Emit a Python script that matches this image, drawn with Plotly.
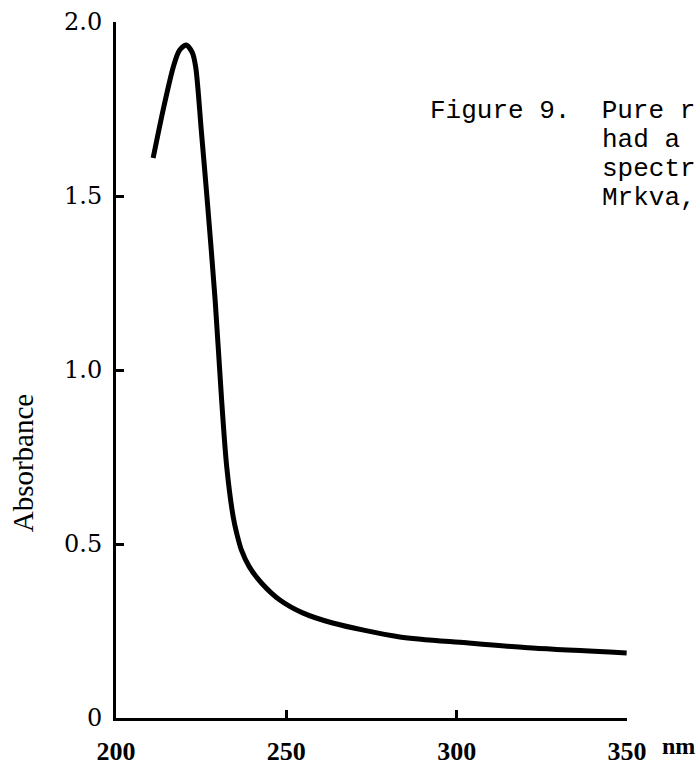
import plotly.graph_objects as go

# Absorption spectrum, wavelength (nm) vs absorbance
wavelength = [210.9, 213.9, 216.8, 218.6, 220.6, 222.4, 223.4, 225.1, 226.7,
              229.1, 231.0, 232.5, 234.4, 235.4, 236.8, 239.1, 242.7, 248.1,
              254.8, 263.6, 283.3, 302.9, 322.3, 349.9]
absorbance = [1.609, 1.750, 1.870, 1.918, 1.934, 1.912, 1.870, 1.681, 1.497,
              1.201, 0.914, 0.722, 0.578, 0.532, 0.483, 0.435, 0.388, 0.339,
              0.302, 0.273, 0.233, 0.216, 0.201, 0.187]

x_ticks = [200, 250, 300, 350]
x_ticklabels = ["200", "250", "300", "350"]
y_ticks = [0, 0.5, 1.0, 1.5, 2.0]
y_ticklabels = ["0", "0.5", "1.0", "1.5", "2.0"]

caption_lines = ["Figure 9.\u00a0\u00a0Pure r", "had a", "spectr", "Mrkva,"]

fig = go.Figure()
fig.add_trace(go.Scatter(
    x=wavelength, y=absorbance, mode="lines",
    line=dict(color="black", width=5, shape="spline", smoothing=0.8),
    hoverinfo="skip", showlegend=False,
))

axis_common = dict(
    showline=True, linecolor="black", linewidth=3,
    ticks="inside", ticklen=8, tickwidth=2.5, tickcolor="black",
    showgrid=False, zeroline=False, mirror=False, automargin=False,
)

fig.update_xaxes(
    range=[200, 350], tickvals=x_ticks, ticktext=x_ticklabels,
    tickfont=dict(family="Liberation Serif", size=26, color="black", weight="bold"),
    ticklabelstandoff=8,
    **axis_common,
)
fig.update_yaxes(
    range=[0, 2.0], tickvals=y_ticks, ticktext=y_ticklabels,
    tickfont=dict(family="DejaVu Serif", size=24, color="black"),
    ticklabelstandoff=6,
    **axis_common,
)

annotations = [
    dict(text="Absorbance", xref="paper", yref="paper", x=0, y=0.366,
         xshift=-93, xanchor="center", yanchor="middle", textangle=-90,
         showarrow=False,
         font=dict(family="Liberation Serif", size=29, color="black")),
    dict(text="nm", xref="x", yref="paper", x=350, y=0, xanchor="left",
         yanchor="middle", xshift=33, yshift=-28, showarrow=False,
         font=dict(family="Liberation Serif", size=24, color="black", weight="bold")),
]

# caption block, typewriter style
caption_x = [428, 600, 600, 600]
caption_y = [111, 140, 169, 198]
for text, cx, cy in zip(caption_lines, caption_x, caption_y):
    annotations.append(dict(
        text=text, xref="paper", yref="paper",
        x=(cx - 116) / 511, y=(718 - cy) / 696,
        xanchor="left", yanchor="middle", showarrow=False,
        font=dict(family="Liberation Mono", size=26, color="black"),
    ))

fig.update_layout(
    width=699, height=771,
    margin=dict(l=116, r=72, t=22, b=53),
    paper_bgcolor="white", plot_bgcolor="white",
    annotations=annotations,
)

fig.write_html("out.html")
